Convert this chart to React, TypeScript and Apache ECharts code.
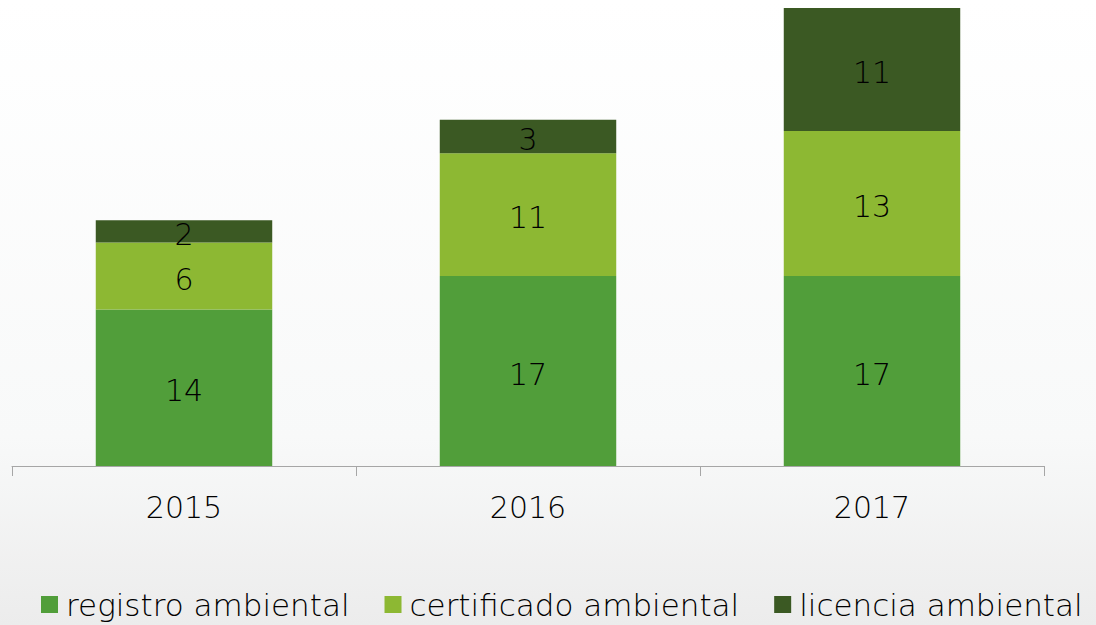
import React, { useEffect, useRef } from "react";
import * as echarts from "echarts";

const categories = ["2015", "2016", "2017"];
const registro = [14, 17, 17];
const certificado = [6, 11, 13];
const licencia = [2, 3, 11];
const seriesNames = ["registro ambiental", "certificado ambiental", "licencia ambiental"];
const colors = ["#519E3A", "#8DB833", "#3B5923"];

const FONT = "DejaVu Sans";
const FS = 30;

export default function App() {
  const ref = useRef<HTMLDivElement>(null);
  useEffect(() => {
    const chart = echarts.init(ref.current!, undefined, { renderer: "svg" });
    const label = {
      show: true,
      position: "inside",
      color: "#000",
      fontSize: FS,
      fontFamily: FONT,
      fontWeight: 300,
      offset: [0, 3],
    };
    const datasets = [registro, certificado, licencia];
    chart.setOption({
      animation: false,
      backgroundColor: {
        type: "linear",
        x: 0, y: 0, x2: 0, y2: 1,
        colorStops: [
          { offset: 0, color: "#ffffff" },
          { offset: 0.7, color: "#f8f9f9" },
          { offset: 1, color: "#ececec" },
        ],
      },
      grid: { left: 12, right: 52, top: 8, bottom: 159 },
      legend: {
        bottom: 0,
        left: 36,
        itemWidth: 17,
        itemHeight: 17,
        itemGap: 35,
        icon: "rect",
        textStyle: { fontSize: 31, fontFamily: FONT, fontWeight: 300, color: "#000", padding: [0, 0, 0, 3] },
        data: seriesNames,
      },
      xAxis: {
        type: "category",
        data: categories,
        axisLine: { lineStyle: { color: "#A6A6A6", width: 1 } },
        axisTick: { show: true, length: 10, lineStyle: { color: "#A6A6A6" } },
        axisLabel: { fontSize: FS, fontFamily: FONT, fontWeight: 300, color: "#000", margin: 26 },
      },
      yAxis: {
        type: "value",
        min: 0,
        max: 41,
        show: false,
        splitLine: { show: false },
      },
      series: seriesNames.map((name, i) => ({
        name,
        type: "bar",
        stack: "total",
        barWidth: "51.3%",
        data: datasets[i],
        itemStyle: { color: colors[i] },
        label,
      })),
    });
    return () => chart.dispose();
  }, []);
  return (
    <div
      ref={ref}
      style={{ position: "fixed", left: 0, top: 0, width: 1096, height: 625 }}
    />
  );
}
